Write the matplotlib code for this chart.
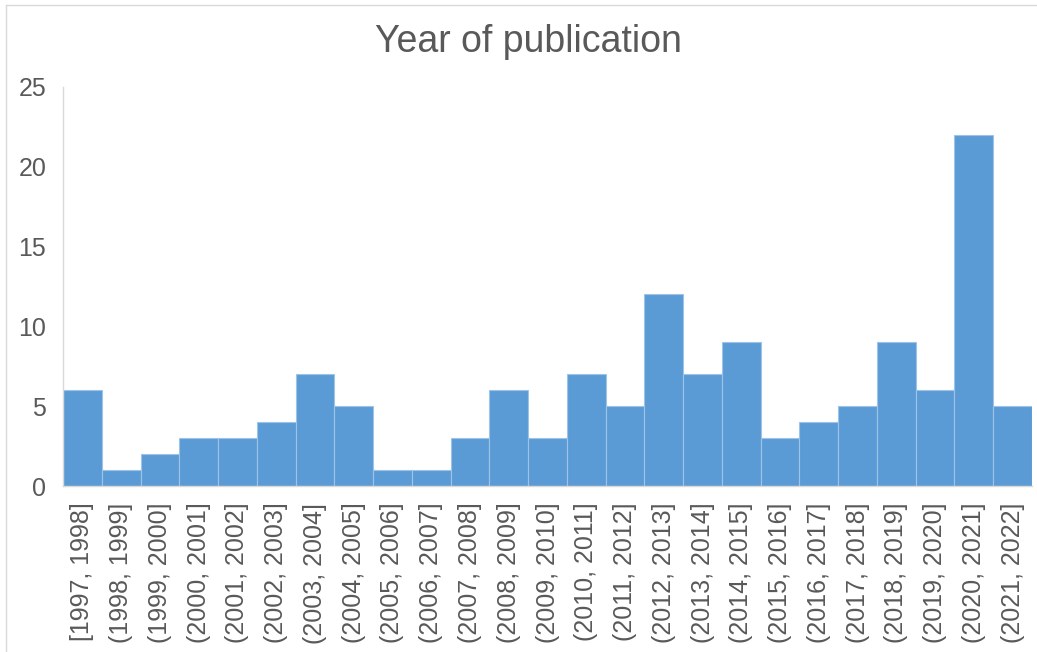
import matplotlib
matplotlib.use("Agg")
import matplotlib.pyplot as plt
from matplotlib.lines import Line2D

categories = ["[1997, 1998]"] + [f"({y}, {y+1}]" for y in range(1998, 2022)]
counts = [6, 1, 2, 3, 3, 4, 7, 5, 1, 1, 3, 6, 3, 7, 5, 12, 7, 9, 3, 4, 5, 9, 6, 22, 5]
yticks = [0, 5, 10, 15, 20, 25]
title = "Year of publication"

plt.rcParams['font.family'] = ['Liberation Sans', 'DejaVu Sans']
txt = "#595959"

fig = plt.figure(figsize=(10.37, 6.52), dpi=100)
bx, by = 5.5/1037, 1 - 4.5/652
fig.lines.append(Line2D([bx, 1], [by, by], transform=fig.transFigure, color="#d9d9d9", linewidth=1.0))
fig.lines.append(Line2D([bx, bx], [0, by], transform=fig.transFigure, color="#d9d9d9", linewidth=1.0))
ax = fig.add_axes([63/1037, 1 - 486/652, (1032 - 63)/1037, (486 - 87)/652])
x = range(len(counts))
ax.bar(x, counts, width=1.0, color="#5B9BD5", edgecolor="#9dc3e6", linewidth=0.8)
ax.set_xlim(-0.5, len(counts) - 0.5)
ax.set_ylim(0, 25)
ax.set_yticks(yticks)
ax.set_xticks(list(x))
ax.set_xticklabels(categories, rotation=90, fontsize=18, color=txt)
ax.tick_params(axis='y', labelsize=18, labelcolor=txt, length=0, pad=12)
ax.tick_params(axis='x', length=0, pad=12)
for s in ["top", "right"]:
    ax.spines[s].set_visible(False)
for s in ["left", "bottom"]:
    ax.spines[s].set_color("#d9d9d9")
    ax.spines[s].set_linewidth(1.0)
fig.text(528/1037, 1 - 42/652, title, ha="center", va="center", fontsize=27, color=txt)
fig.savefig("out.png", dpi=100)
